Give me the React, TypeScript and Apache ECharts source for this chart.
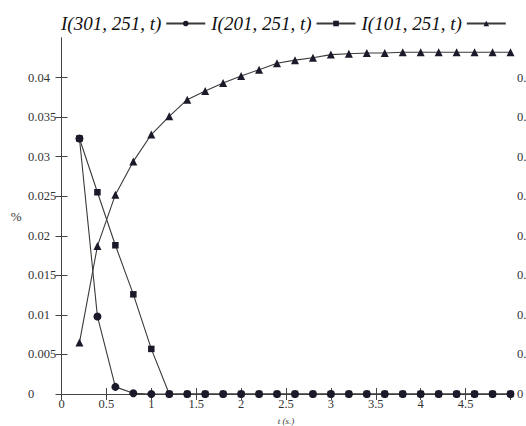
import React, { useEffect, useRef } from "react";
import * as echarts from "echarts";

const times = [0.2, 0.4, 0.6, 0.8, 1.0, 1.2, 1.4, 1.6, 1.8, 2.0, 2.2, 2.4, 2.6, 2.8, 3.0, 3.2, 3.4, 3.6, 3.8, 4.0, 4.2, 4.4, 4.6, 4.8, 5.0];
const s301 = [0.0323, 0.0098, 0.0009, 0.0001, 0, 0, 0, 0, 0, 0, 0, 0, 0, 0, 0, 0, 0, 0, 0, 0, 0, 0, 0, 0, 0];
const s201 = [0.0323, 0.0255, 0.0188, 0.0126, 0.0057, 0, 0, 0, 0, 0, 0, 0, 0, 0, 0, 0, 0, 0, 0, 0, 0, 0, 0, 0, 0];
const s101 = [0.0065, 0.0187, 0.0252, 0.0294, 0.0328, 0.0351, 0.0372, 0.0383, 0.0393, 0.0402, 0.041, 0.0418, 0.0422, 0.0425, 0.0429, 0.043, 0.0431, 0.0431, 0.0432, 0.0432, 0.0432, 0.0432, 0.0432, 0.0432, 0.0432];
const names = ["I(301, 251, t)", "I(201, 251, t)", "I(101, 251, t)"];

const FONT = "'Liberation Serif', 'DejaVu Serif', serif";

export default function App() {
  const ref = useRef<HTMLDivElement>(null);
  useEffect(() => {
    if (!ref.current) return;
    const chart = echarts.init(ref.current, undefined, { renderer: "svg" });
    const pair = (arr: number[]) => times.map((t, i) => [t, arr[i]]);
    const axisLine = { show: true, lineStyle: { color: "#444", width: 1 } };
    const tick = { show: true, inside: true, length: 6, lineStyle: { color: "#444" } };
    const label = { color: "#333", fontFamily: FONT, fontSize: 12.5 };
    const mk = (name: string, data: number[], symbol: string, size: number) => ({
      name,
      type: "line",
      data: pair(data),
      symbol,
      symbolSize: size,
      showAllSymbol: true,
      lineStyle: { color: "#3a3a3a", width: 1.1 },
      itemStyle: { color: "#1a1a2a", borderWidth: 0 },
      emphasis: { disabled: true },
    });
    chart.setOption({
      animation: false,
      backgroundColor: "#fff",
      legend: {
        top: 9,
        left: 56,
        align: "right",
        itemWidth: 39,
        itemHeight: 7,
        itemGap: 5,
        textStyle: { fontFamily: FONT, fontStyle: "italic", fontSize: 19, color: "#111" },
        data: names,
      },
      grid: { left: 61.5, right: 15.5, top: 38, bottom: 32, outerBoundsMode: "none" },
      xAxis: [
        {
          type: "value",
          min: 0,
          max: 5,
          interval: 0.5,
          name: "t (s.)",
          nameLocation: "middle",
          nameGap: 22,
          nameTextStyle: { fontFamily: FONT, fontStyle: "italic", fontSize: 9, color: "#333" },
          axisLine,
          axisTick: tick,
          splitLine: { show: false },
          axisLabel: { ...label, margin: 3, showMaxLabel: false },
        },
        {
          type: "value",
          position: "top",
          min: 0,
          max: 5,
          interval: 0.5,
          axisLine,
          axisTick: tick,
          splitLine: { show: false },
          axisLabel: { show: false },
        },
      ],
      yAxis: [
        {
          type: "value",
          min: 0,
          max: 0.045,
          interval: 0.005,
          name: "%",
          nameLocation: "middle",
          nameGap: 40,
          nameRotate: 0,
          nameTextStyle: { fontFamily: FONT, fontSize: 13, color: "#333" },
          axisLine,
          axisTick: tick,
          splitLine: { show: false },
          axisLabel: { ...label, margin: 33.5, align: "left", showMaxLabel: false },
        },
        {
          type: "value",
          position: "right",
          min: 0,
          max: 0.045,
          interval: 0.005,
          axisLine,
          axisTick: tick,
          splitLine: { show: false },
          axisLabel: { ...label, margin: 6.5, showMaxLabel: false },
        },
      ],
      series: [
        mk(names[0], s301, "circle", 8),
        mk(names[1], s201, "rect", 6.5),
        mk(names[2], s101, "triangle", 8),
      ],
    });
    return () => chart.dispose();
  }, []);
  return <div ref={ref} style={{ position: "fixed", left: 0, top: 0, width: 526, height: 426 }} />;
}
